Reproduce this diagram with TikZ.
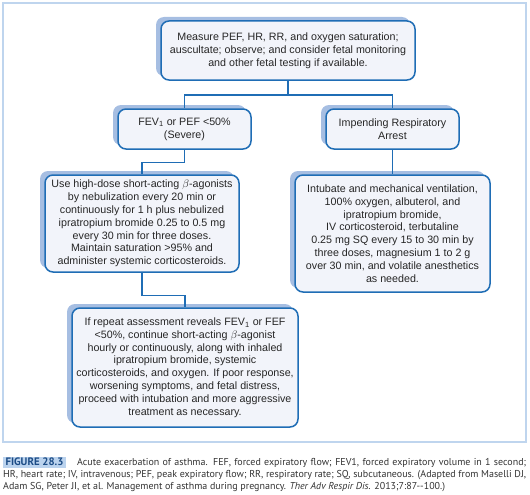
\documentclass[tikz,border=0pt]{standalone}
\usepackage{fontspec}
\setmainfont{Liberation Sans}
\newfontfamily\capfont{PT Sans}
\usetikzlibrary{shadows}
\definecolor{framec}{HTML}{BFD5EE}
\definecolor{boxline}{HTML}{1F6DB5}
\definecolor{boxfill}{HTML}{F2F4FA}
\definecolor{shadowc}{HTML}{A6BEE2}
\definecolor{capbg}{HTML}{BBD3EE}
\definecolor{capfg}{HTML}{1C4C86}
\definecolor{captext}{HTML}{333333}
\definecolor{boxtext}{HTML}{262626}
\tikzset{
  flowbox/.style={draw=boxline, line width=1.5pt, fill=boxfill, rounded corners=8pt,
    align=center, inner sep=0pt, text=boxtext,
    font=\fontsize{10.7}{12.8}\selectfont,
    general shadow={fill=shadowc, shadow xshift=-5pt, shadow yshift=4pt}},
  conn/.style={draw=boxline, line width=1.3pt},
  capline/.style={anchor=base west, inner sep=0pt, text=captext, font=\capfont\fontsize{10}{12}\selectfont}
}
\begin{document}
\begin{tikzpicture}[x=1pt,y=-1pt]
\useasboundingbox (0,0) rectangle (530,495);
\draw[framec, line width=2pt] (3,3) rectangle (526,442);

\node[flowbox, minimum width=254pt, minimum height=59pt] (top) at (288,50.5)
 {Measure PEF, HR, RR, and oxygen saturation;\\auscultate; observe; and consider fetal monitoring\\and other fetal testing if available.};
\node[flowbox, minimum width=133pt, minimum height=40pt] (fev) at (184.5,129)
 {FEV\textsubscript{1} or PEF <50\%\\(Severe)};
\node[flowbox, minimum width=133pt, minimum height=40pt] (arrest) at (392.5,129)
 {Impending Respiratory\\Arrest};
\node[flowbox, minimum width=194pt, minimum height=97pt] (use) at (142,223.5)
 {Use high-dose short-acting $\beta$-agonists\\by nebulization every 20 min or\\continuously for 1 h plus nebulized\\ipratropium bromide 0.25 to 0.5 mg\\every 30 min for three doses.\\Maintain saturation >95\% and\\administer systemic corticosteroids.};
\node[flowbox, minimum width=195pt, minimum height=117pt] (intub) at (392.5,233.5)
 {Intubate and mechanical ventilation,\\100\% oxygen, albuterol, and\\ipratropium bromide,\\IV corticosteroid, terbutaline\\0.25 mg SQ every 15 to 30 min by\\three doses, magnesium 1 to 2 g\\over 30 min, and volatile anesthetics\\as needed.};
\node[flowbox, minimum width=226pt, minimum height=119pt] (rep) at (185,367.5)
 {If repeat assessment reveals FEV\textsubscript{1} or FEF\\<50\%, continue short-acting $\beta$-agonist\\hourly or continuously, along with inhaled\\ipratropium bromide, systemic\\corticosteroids, and oxygen. If poor response,\\worsening symptoms, and fetal distress,\\proceed with intubation and more aggressive\\treatment as necessary.};

\coordinate (j1) at (288,95);
\draw[conn] (top.south) -- (j1) -| (fev.north);
\draw[conn] (j1) -| (arrest.north);
\draw[conn] (fev.south) -- ++(0,13) -| (use.north);
\draw[conn] (arrest.south) -- (intub.north);
\draw[conn] (use.south) -- ++(0,23) -| (rep.north);

\node[fill=capbg, text=capfg, inner sep=0pt, minimum width=63pt, minimum height=11pt,
  font=\capfont\bfseries\fontsize{10.8}{12}\selectfont] (fig) at (34.5,462) {FIGURE 28.3};
\node[capline] (c1) at (77,465) {\hbox to 449pt{Acute exacerbation of asthma. FEF, forced expiratory flow; FEV1, forced expiratory volume in 1 second;}};
\node[capline] (c2) at (3,477) {\hbox to 523pt{HR, heart rate; IV, intravenous; PEF, peak expiratory flow; RR, respiratory rate; SQ, subcutaneous. (Adapted from Maselli DJ,}};
\node[capline] (c3) at (3,489) {Adam SG, Peter JI, et al. Management of asthma during pregnancy. \textit{Ther Adv Respir Dis.} 2013;7:87--100.)};
\end{tikzpicture}
\end{document}
